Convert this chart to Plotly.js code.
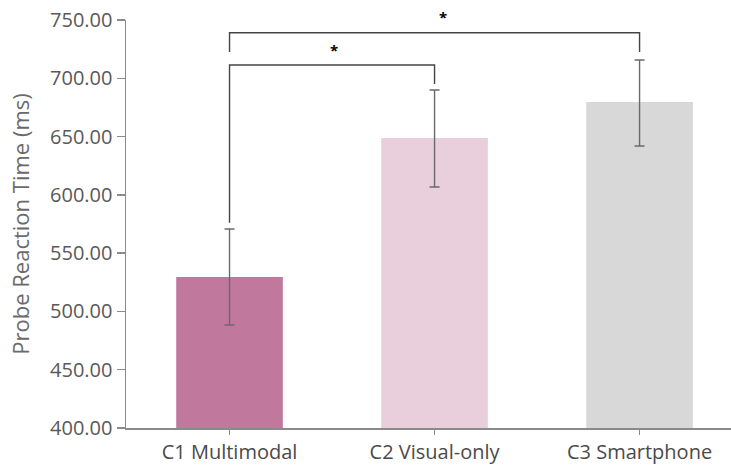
<!DOCTYPE html>
<html>
<head>
<meta charset="utf-8">
<script src="https://cdn.plot.ly/plotly-3.0.1.min.js"></script>
<style>html,body{margin:0;padding:0;background:#fff;}#chart{width:731px;height:469px;}</style>
</head>
<body>
<div id="chart"></div>
<script>
const categories = ['C1 Multimodal', 'C2 Visual-only', 'C3 Smartphone'];
const means = [529.5, 648.8, 679.7];
const errUp = [41.2, 41.2, 36.0];
const errDown = [41.1, 42.1, 37.8];
const barColors = ['#c0789c', '#e8cfdb', '#d8d8d8'];
const yTicks = [400, 450, 500, 550, 600, 650, 700, 750];
const yRange = [400, 750];

// significance brackets
const bracketFrom = [0, 0];
const bracketTo = [1, 2];
const bracketLevel = [711.4, 739.0];
const bracketLeftEnd = [576.0, 722.5];
const bracketRightEnd = [695.0, 722.5];
const bracketLabel = ['*', '*'];
const bracketLabelY = [724.5, 753.0];

const trace = {
  type: 'bar',
  x: [0, 1, 2],
  y: means,
  width: 0.52,
  marker: {color: barColors, line: {width: 0}},
  error_y: {type: 'data', symmetric: false, array: errUp, arrayminus: errDown,
            color: '#6a6a6a', thickness: 1.4, width: 5},
  hoverinfo: 'none'
};

const shapes = [];
const annotations = [];
for (let i = 0; i < bracketFrom.length; i++) {
  const a = bracketFrom[i], b = bracketTo[i], lv = bracketLevel[i];
  shapes.push({type: 'path', xref: 'x', yref: 'y',
    path: `M ${a} ${bracketLeftEnd[i]} L ${a} ${lv} L ${b} ${lv} L ${b} ${bracketRightEnd[i]}`,
    line: {color: '#444444', width: 1.4}});
  annotations.push({xref: 'x', yref: 'paper', x: (a + b) / 2 + (i === 1 ? 0.04 : 0.01),
    y: (bracketLabelY[i] - yRange[0]) / (yRange[1] - yRange[0]),
    text: '<b>' + bracketLabel[i] + '</b>', showarrow: false,
    font: {size: 15, color: '#000', family: 'Open Sans'},
    yanchor: 'middle'});
}

const layout = {
  width: 731, height: 469,
  margin: {l: 126, r: 0, t: 20, b: 41},
  paper_bgcolor: '#fff', plot_bgcolor: '#fff',
  showlegend: false,
  font: {family: 'Open Sans, Noto Sans, sans-serif', color: '#595959', size: 20},
  xaxis: {
    range: [-0.505, 2.446],
    tickmode: 'array', tickvals: [0, 1, 2], ticktext: categories,
    showgrid: false, zeroline: false,
    showline: true, linecolor: '#8a8a8a', linewidth: 1.5,
    ticks: 'outside', ticklen: 5, tickcolor: '#8a8a8a', tickwidth: 1.5,
    tickfont: {size: 20, color: '#4a4a4a'}
  },
  yaxis: {
    range: yRange,
    tickmode: 'array', tickvals: yTicks, ticktext: yTicks.map(v => v.toFixed(2)),
    showgrid: false, zeroline: false,
    showline: true, linecolor: '#8a8a8a', linewidth: 1.5,
    ticks: 'outside', ticklen: 8, tickcolor: '#8a8a8a', tickwidth: 1.5,
    tickfont: {size: 20, color: '#595959'},
    title: {text: 'Probe Reaction Time (ms)', font: {size: 22, color: '#6a6a6a'}, standoff: 14}
  },
  shapes: shapes,
  annotations: annotations
};

Plotly.newPlot('chart', [trace], layout, {displayModeBar: false, staticPlot: true});
</script>
</body>
</html>
